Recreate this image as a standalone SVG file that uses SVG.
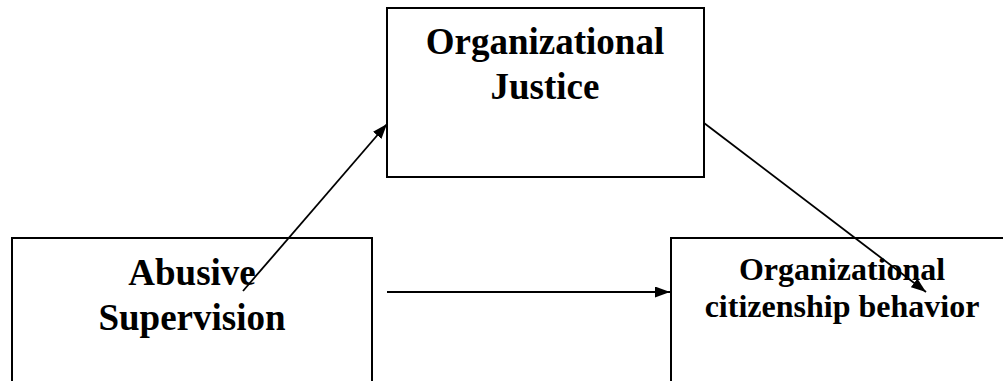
<svg xmlns="http://www.w3.org/2000/svg" width="1003" height="381" viewBox="0 0 1003 381">
<style>
.box{fill:#fff;stroke:#000;stroke-width:2}
.t{font-family:"Liberation Serif","Times New Roman",serif;font-weight:bold;text-anchor:middle;fill:#000}
.big{font-size:37px}
.small{font-size:32px}
.c{stroke:#000;stroke-width:1.8;fill:none;marker-end:url(#ah)}
</style>
<defs>
<marker id="ah" viewBox="0 0 10 10" refX="10" refY="5" markerWidth="15" markerHeight="11" markerUnits="userSpaceOnUse" orient="auto" preserveAspectRatio="none">
<path d="M0,0 L10,5 L0,10 Z" fill="#000"/>
</marker>
</defs>
<g id="n-justice">
<rect class="box" x="387" y="8" width="317" height="169"/>
<text class="t big" x="545" y="54">Organizational</text>
<text class="t big" x="545" y="99">Justice</text>
</g>
<g id="n-abusive">
<rect class="box" x="12" y="238" width="360" height="160"/>
<text class="t big" x="192" y="285">Abusive</text>
<text class="t big" x="192" y="330">Supervision</text>
</g>
<g id="n-ocb">
<rect class="box" x="671" y="238" width="350" height="160"/>
<text class="t small" x="842" y="280">Organizational</text>
<text class="t small" x="842" y="317">citizenship behavior</text>
</g>
<g id="connectors">
<line class="c" x1="243" y1="291" x2="387" y2="124"/>
<line class="c" x1="704" y1="123" x2="926" y2="292"/>
<line class="c" x1="387" y1="292" x2="670" y2="292"/>
</g>
</svg>
